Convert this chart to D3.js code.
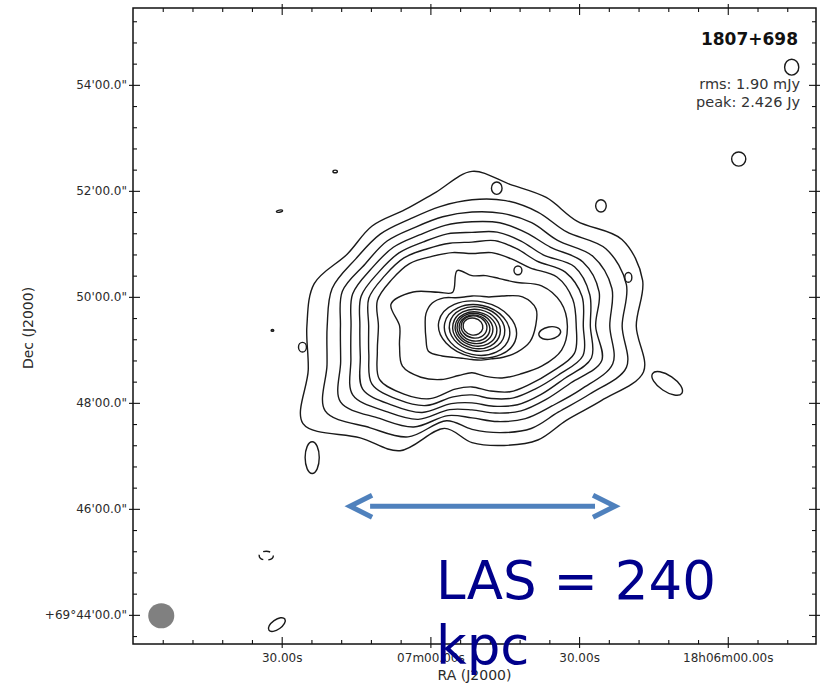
<!DOCTYPE html>
<html>
<head>
<meta charset="utf-8">
<style>
  body { margin: 0; background: #fff; font-family: "DejaVu Sans", sans-serif; }
  .contour { fill: none; stroke: #1a1a1a; stroke-width: 1.4; }
</style>
<title>1807+698</title>
</head>
<body>
<script src="https://cdn.jsdelivr.net/npm/d3@7"></script>
<script>

// axes: RA in seconds after 18h00m, Dec in arcmin after +69 deg
var raDomain = [480.0, 342.2];
var decDomain = [43.45, 55.45];
var raTicks = [450, 420, 390, 360];
var raTickLabels = ["30.00s", "07m00.00s", "30.00s", "18h06m00.00s"];
var decTicks = [44, 46, 48, 50, 52, 54];
var decTickLabels = ["+69\u00b044'00.0\"", "46'00.0\"", "48'00.0\"", "50'00.0\"", "52'00.0\"", "54'00.0\""];

// source
var sourceName = "1807+698";
var rmsText = "rms: 1.90 mJy";
var peakText = "peak: 2.426 Jy";
var core = [411.6, 49.45];          // RA s, Dec arcmin of the peak
var raSecPerArcmin = 10.69;         // map aspect

// extended contours: radius (arcsec) from the core at each position angle
var contourAngles = [0, 15, 30, 45, 60, 75, 90, 105, 120, 135, 150, 165, 180, 195, 210, 225, 240, 255, 270, 285, 300, 315, 330, 345];
var contourRadii = [
  [186,200,196,168,168,166,175,157,152,160,163,185,187,192,221,179,163,120,132,140,149,151,169,201],
  [170,181,175,151,149,147,143,140,140,147,152,164,164,170,192,163,145,111,117,125,134,138,154,181],
  [156,164,158,137,135,132,129,128,129,136,140,152,149,154,172,148,132,105,104,112,121,128,143,165],
  [140,149,145,126,122,121,118,118,119,126,131,140,137,142,156,137,122,98,95,102,111,118,129,152],
  [134,138,134,114,111,110,106,108,110,117,122,130,127,131,143,127,113,91,87,94,103,110,120,140],
  [126,129,122,104,101,100,95,97,101,109,114,121,117,121,131,118,104,83,78,85,94,101,112,130],
  [118,118,111,93,88,86,82,86,91,100,105,111,106,111,121,109,95,74,69,76,86,93,104,120],
  [108,104,91,70,62,59,57,65,44,54,77,95,82,85,91,82,70,58,53,59,68,77,91,105],
  [72,75,66,48,38,35,34,34,37,45,52,54,53,54,57,48,41,38,38,40,43,50,59,68]
];

// compact core contours: centre offset (arcsec) and semi-axes (arcsec)
var ringOffsets = [[6.2,-4.0],[5.7,-4.5],[5.7,-3.4],[5.1,-3.4],[4.5,-3.4],[3.4,-2.8],[2.8,-2.3],[2.3,-1.1],[1.1,-0.6]];
var ringAxes = [[44.7,31.7],[37.4,28.3],[31.7,24.9],[27.2,22.1],[23.8,19.2],[20.4,17.0],[17.5,14.7],[14.7,12.5],[11.3,9.6]];

// small isolated contours: offset from core (arcsec), semi-axes (arcsec), tilt (deg)
var islandOffsets = [[362,293],[302,189],[146,136],[28,156],[52,63],[177,55],[88,-8],[221,-65],[-192,-24],[-181,-149],[-221,-338],[-155,175],[-218,130],[-226,-5],[-233,-260]];
var islandAxes = [[8,9],[8,8],[6,7],[6,7],[4.5,5],[4,5.5],[12.5,7],[20,9],[4.5,5.5],[8,18],[11,5.5],[2.5,1.5],[3.5,1.2],[1.5,1],[8,5]];
var islandTilt = [0,0,0,0,0,0,-10,34,0,0,-35,0,-10,0,0];
var islandBroken = [false,false,false,false,false,false,false,false,false,false,false,false,false,false,true];

// beam (arcsec) and largest angular size arrow (RA s, Dec arcmin)
var beamSize = [29.5, 28.5];
var lasStart = [436.2, 46.05];
var lasEnd = [382.75, 46.05];
var lasLines = ["LAS = 240", "kpc"];

var W = 821, H = 684;
var plot = {left: 133, right: 816, top: 8, bottom: 644};

var svg = d3.select("body").append("svg")
  .attr("width", W).attr("height", H);

var x = d3.scaleLinear().domain(raDomain).range([plot.left, plot.right]);
var y = d3.scaleLinear().domain(decDomain).range([plot.bottom, plot.top]);
var pxPerArcsec = y(decDomain[0]) - y(decDomain[0] + 1/60);

function sky(dx, dy) {
  return [x(core[0] - dx / 60 * raSecPerArcmin), y(core[1] + dy / 60)];
}

svg.append("clipPath").attr("id", "frame")
  .append("rect")
  .attr("x", plot.left).attr("y", plot.top)
  .attr("width", plot.right - plot.left).attr("height", plot.bottom - plot.top);

var map = svg.append("g").attr("clip-path", "url(#frame)");

// extended contours
var line = d3.line().curve(d3.curveCatmullRomClosed.alpha(0.5));
map.selectAll("path.contour").data(contourRadii).enter()
  .append("path")
  .attr("class", "contour")
  .attr("d", function(r) {
    var pts = contourAngles.map(function(a, i) {
      var t = a * Math.PI / 180;
      return sky(r[i] * Math.cos(t), r[i] * Math.sin(t));
    });
    return line(pts);
  });

// core rings
map.selectAll("ellipse.ring").data(ringAxes).enter()
  .append("ellipse")
  .attr("class", "contour ring")
  .each(function(d, i) {
    var c = sky(ringOffsets[i][0], ringOffsets[i][1]);
    d3.select(this)
      .attr("cx", c[0]).attr("cy", c[1])
      .attr("rx", d[0] * pxPerArcsec).attr("ry", d[1] * pxPerArcsec)
      .attr("transform", "rotate(12," + c[0] + "," + c[1] + ")");
  });

// islands
map.selectAll("ellipse.island").data(islandOffsets).enter()
  .append("ellipse")
  .attr("class", "contour island")
  .each(function(d, i) {
    var c = sky(d[0], d[1]);
    d3.select(this)
      .attr("cx", c[0]).attr("cy", c[1])
      .attr("rx", islandAxes[i][0] * pxPerArcsec).attr("ry", islandAxes[i][1] * pxPerArcsec)
      .attr("transform", "rotate(" + islandTilt[i] + "," + c[0] + "," + c[1] + ")")
      .attr("stroke-dasharray", islandBroken[i] ? "7,5" : null);
  });

// beam in lower left corner
var beamX = x(raDomain[0] - 32 / 60 * raSecPerArcmin);
var beamY = y(decDomain[0] + 32 / 3600 * 60);
map.append("ellipse")
  .attr("cx", beamX).attr("cy", beamY)
  .attr("rx", beamSize[0] / 2 * pxPerArcsec).attr("ry", beamSize[1] / 2 * pxPerArcsec)
  .attr("fill", "#808080");

// axes
var decMinor = d3.range(0, 31).map(function(i) { return +(43.6 + 0.4 * i).toFixed(2); })
  .filter(function(v) { return v < decDomain[1] && decTicks.indexOf(v) < 0; });
var raMinor = d3.range(348, 480, 6)
  .filter(function(v) { return raTicks.indexOf(v) < 0; });

function axis(gen, tx, ty, vals, size, fmt, pad) {
  var g = svg.append("g")
    .attr("transform", "translate(" + tx + "," + ty + ")")
    .call(gen.tickValues(vals).tickSize(size).tickPadding(pad || 2)
      .tickFormat(fmt || function() { return ""; }));
  g.select(".domain").remove();
  g.selectAll("line").attr("stroke", "#111").attr("stroke-width", 1.1);
  g.attr("font-size", 12).attr("font-family", "DejaVu Sans");
  g.selectAll("text").attr("fill", "#2b2b2b");
  return g;
}

// left
axis(d3.axisLeft(y), plot.left, 0, decTicks, 4, function(d, i) { return decTickLabels[i]; }, 2);
axis(d3.axisRight(y), plot.left, 0, decTicks, 7);
axis(d3.axisRight(y), plot.left, 0, decMinor, 4);
// right
axis(d3.axisRight(y), plot.right, 0, decTicks, 4);
axis(d3.axisLeft(y), plot.right, 0, decTicks, 7);
axis(d3.axisLeft(y), plot.right, 0, decMinor, 4);
// bottom
axis(d3.axisBottom(x), 0, plot.bottom, raTicks, 4, function(d, i) { return raTickLabels[i]; }, 5);
axis(d3.axisTop(x), 0, plot.bottom, raTicks, 7);
axis(d3.axisTop(x), 0, plot.bottom, raMinor, 4);
// top
axis(d3.axisTop(x), 0, plot.top, raTicks, 4);
axis(d3.axisBottom(x), 0, plot.top, raTicks, 7);
axis(d3.axisBottom(x), 0, plot.top, raMinor, 4);

svg.append("rect")
  .attr("x", plot.left).attr("y", plot.top)
  .attr("width", plot.right - plot.left).attr("height", plot.bottom - plot.top)
  .attr("fill", "none").attr("stroke", "#111").attr("stroke-width", 1.5);

svg.append("text")
  .attr("transform", "translate(33," + ((plot.top + plot.bottom) / 2 + 2) + ") rotate(-90)")
  .attr("text-anchor", "middle")
  .attr("font-size", 14).attr("fill", "#2b2b2b")
  .text("Dec (J2000)");

svg.append("text")
  .attr("x", (plot.left + plot.right) / 2).attr("y", 680)
  .attr("text-anchor", "middle")
  .attr("font-size", 14).attr("fill", "#2b2b2b")
  .text("RA (J2000)");

// labels top right
svg.append("text")
  .attr("x", 798).attr("y", 45)
  .attr("text-anchor", "end").attr("font-weight", "bold")
  .attr("font-size", 17).attr("fill", "#111")
  .text(sourceName);
svg.selectAll("text.info").data([rmsText, peakText]).enter()
  .append("text")
  .attr("class", "info")
  .attr("x", 800).attr("y", function(d, i) { return 89 + i * 18; })
  .attr("text-anchor", "end")
  .attr("font-size", 14.5).attr("fill", "#333")
  .text(function(d) { return d; });

// LAS arrow
var ax0 = x(lasStart[0]), ax1 = x(lasEnd[0]), ay = y(lasStart[1]);
var arrow = svg.append("g")
  .attr("fill", "none").attr("stroke", "#4f81bd").attr("stroke-width", 5);
arrow.append("line")
  .attr("x1", ax0 + 20).attr("x2", ax1 - 20).attr("y1", ay).attr("y2", ay);
arrow.append("polyline")
  .attr("points", [[ax0 + 22, ay - 11], [ax0, ay], [ax0 + 22, ay + 11]].join(" "));
arrow.append("polyline")
  .attr("points", [[ax1 - 22, ay - 11], [ax1, ay], [ax1 - 22, ay + 11]].join(" "));

svg.selectAll("text.las").data(lasLines).enter()
  .append("text")
  .attr("class", "las")
  .attr("x", 436).attr("y", function(d, i) { return 599 + i * 65; })
  .attr("font-size", 53).attr("fill", "#00008b")
  .text(function(d) { return d; });

</script>
</body>
</html>
